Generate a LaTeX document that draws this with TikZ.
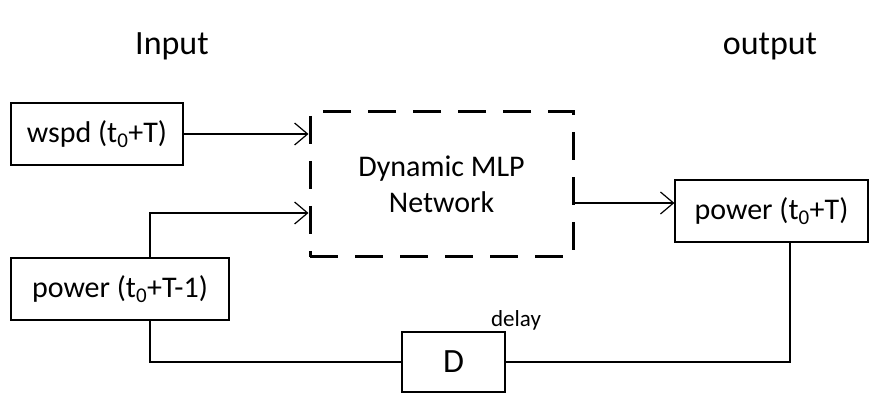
\documentclass[tikz,border=0pt]{standalone}
\usepackage{fontspec}
\setmainfont{Carlito}
\usetikzlibrary{calc,arrows.meta}

\begin{document}
\begin{tikzpicture}[x=1pt,y=-1pt]
% Block style
\tikzset{
    block/.style={draw,line width=1.2pt,minimum height=62pt,inner sep=0pt,
        font=\fontsize{30}{36}\selectfont},
    net/.style={draw,line width=3pt,dash pattern=on 28pt off 17pt,
        minimum width=263pt,minimum height=145pt,align=center,
        font=\fontsize{30}{36}\selectfont},
    wire/.style={line width=1.2pt},
    arr/.style={wire,-{Straight Barb[length=13pt,width=22pt,line width=1.2pt]}}
}
\useasboundingbox (0,0) rectangle (870,395);
% Labels
\node[font=\fontsize{34}{40}\selectfont] (IN) at (172,46){Input};
\node[font=\fontsize{34}{40}\selectfont] (OUT) at (770,46){output};
% Blocks
\node[block,minimum width=172pt] (WS) at (97,134){wspd (t\textsubscript{0}+T)};
\node[block,minimum width=218pt] (PIN) at (120,289){power (t\textsubscript{0}+T-1)};
\node[net] (NET) at (441.5,184.5){Dynamic MLP\\Network};
\node[block,minimum width=193pt] (POUT) at (771.5,211){power (t\textsubscript{0}+T)};
\node[block,minimum width=103pt,minimum height=60pt,
    font=\fontsize{34}{40}\selectfont] (D) at (453.5,362){D};
\node[font=\fontsize{23}{28}\selectfont] (DL) at (516,320){delay};
% Connection
\coordinate (fb) at (150,213);
\coordinate (o) at (0,203);
\coordinate (fo) at (790,362);
\draw[arr] (WS.east) -- (WS.east -| NET.west);
\draw[arr] (PIN.north -| fb) -- (fb) -- (fb -| NET.west);
\draw[arr] (NET.east |- o) -- (POUT.west |- o);
\draw[wire] (POUT.south -| fo) |- (D.east);
\draw[wire] (PIN.south -| fb) |- (D.west);
\end{tikzpicture}
\end{document}
